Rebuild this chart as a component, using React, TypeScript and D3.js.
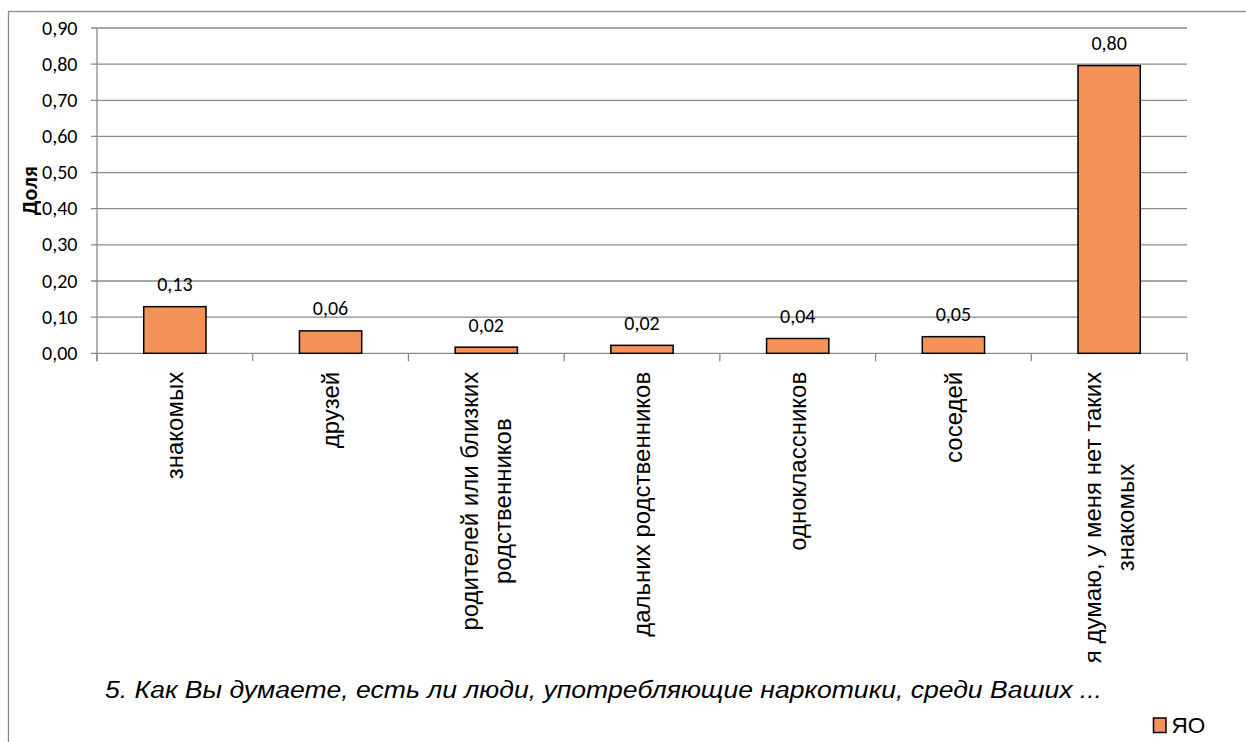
import React from "react";
import * as d3 from "d3";

const categories: string[][] = [
  ["знакомых"],
  ["друзей"],
  ["родителей или близких", "родственников"],
  ["дальних родственников"],
  ["одноклассников"],
  ["соседей"],
  ["я думаю, у меня нет таких", "знакомых"],
];
const values: number[] = [0.129, 0.062, 0.017, 0.022, 0.041, 0.046, 0.796];
const yTicks: number[] = [0, 0.1, 0.2, 0.3, 0.4, 0.5, 0.6, 0.7, 0.8, 0.9];
const seriesName = "ЯО";
const yTitle = "Доля";
const chartTitle =
  "5. Как Вы думаете, есть ли люди, употребляющие наркотики, среди Ваших ...";

const W = 1246;
const H = 742;
const left = 97;
const right = 1187;
const top = 28;
const bottom = 353.3;

const gridColor = "#8a8a8a";
const barFill = "#F5925A";
const numFont = "Carlito, Calibri, Lato, sans-serif";
const catFont = "'Liberation Sans', Arial, sans-serif";
const catSize = 24;

const fmt = (v: number) => d3.format(".2f")(v).replace(".", ",");

let ctx: CanvasRenderingContext2D | null = null;
function measure(s: string): number {
  if (!ctx && typeof document !== "undefined") {
    ctx = document.createElement("canvas").getContext("2d");
  }
  if (!ctx) return s.length * catSize * 0.5;
  ctx.font = `${catSize}px 'Liberation Sans', Arial, sans-serif`;
  return ctx.measureText(s).width;
}

export default function App() {
  const idx = categories.map((_, i) => String(i));
  const x = d3.scaleBand<string>().domain(idx).range([left, right]).paddingInner(0).paddingOuter(0);
  const y = d3.scaleLinear().domain([0, 0.9]).range([bottom, top]);
  const bw = x.bandwidth() * 0.4;
  const catTicks = d3.range(categories.length + 1).map((i) => left + i * x.bandwidth());

  return (
    <svg
      width={W}
      height={H}
      style={{ position: "absolute", left: 0, top: 0, background: "#fff" }}
    >
      <rect x={8.5} y={11.5} width={W + 20} height={H + 20} fill="#fff" stroke={gridColor} strokeWidth={1.3} />
      {yTicks.map((t) => (
        <g key={t}>
          <line x1={left - 6} x2={right} y1={y(t)} y2={y(t)} stroke={gridColor} strokeWidth={1.3} />
          <text
            x={77.5}
            y={y(t)}
            dy="0.33em"
            textAnchor="end"
            fontFamily={numFont}
            fontSize={20}
            fill="#000"
          >
            {fmt(t)}
          </text>
        </g>
      ))}
      <line x1={left} x2={left} y1={top} y2={bottom + 8} stroke={gridColor} strokeWidth={1.3} />
      {catTicks.map((cx, i) => (
        <line key={i} x1={cx} x2={cx} y1={bottom} y2={bottom + 8} stroke={gridColor} strokeWidth={1.3} />
      ))}
      {values.map((v, i) => {
        const cx = (x(String(i)) as number) + x.bandwidth() / 2;
        return (
          <g key={i}>
            <rect
              x={cx - bw / 2}
              y={y(v)}
              width={bw}
              height={bottom - y(v)}
              fill={barFill}
              stroke="#000"
              strokeWidth={1.5}
            />
            <text
              x={cx}
              y={y(v) - 15.5}
              textAnchor="middle"
              fontFamily={numFont}
              fontSize={20}
              fill="#000"
            >
              {fmt(v)}
            </text>
          </g>
        );
      })}
      {categories.map((lines, i) => {
        const cx = (x(String(i)) as number) + x.bandwidth() / 2;
        const lh = 33.5;
        const n = lines.length;
        const maxLen = Math.max(...lines.map(measure));
        return (
          <g key={i} transform={`translate(${cx},${bottom + 18.5}) rotate(-90)`}>
            {lines.map((ln, j) => (
              <text
                key={j}
                x={-maxLen / 2}
                y={8.3 + (j - (n - 1) / 2) * lh}
                textAnchor="middle"
                fontFamily={catFont}
                fontSize={catSize}
                fill="#000"
              >
                {ln}
              </text>
            ))}
          </g>
        );
      })}
      <text
        transform={`translate(36.5,${(top + bottom) / 2}) rotate(-90)`}
        textAnchor="middle"
        fontFamily={numFont}
        fontWeight="bold"
        fontSize={22}
        fill="#000"
      >
        {yTitle}
      </text>
      <text
        x={105}
        y={698}
        fontFamily={catFont}
        fontStyle="italic"
        fontSize={23}
        textLength={997}
        lengthAdjust="spacingAndGlyphs"
        fill="#000"
      >
        {chartTitle}
      </text>
      <rect x={1153.5} y={718} width={12.5} height={14.5} fill={barFill} stroke="#000" strokeWidth={1.5} />
      <text x={1171.5} y={733} fontFamily={catFont} fontSize={22.5} fill="#000">
        {seriesName}
      </text>
    </svg>
  );
}
